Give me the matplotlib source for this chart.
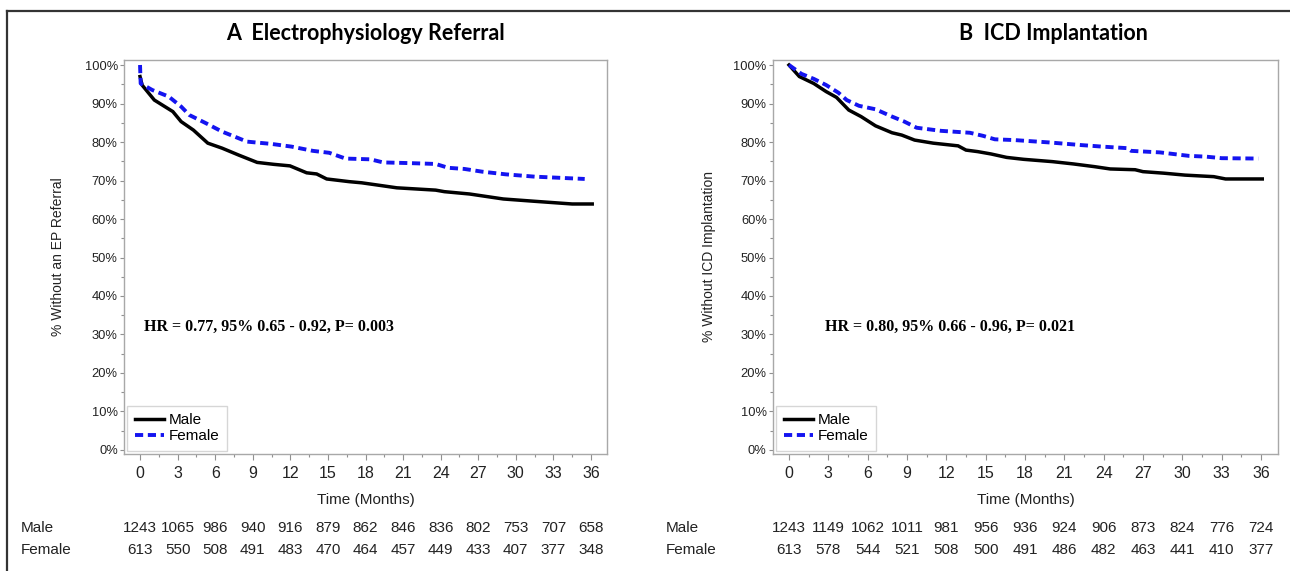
import matplotlib
matplotlib.use('Agg')
import matplotlib.pyplot as plt
from matplotlib import font_manager
from matplotlib.lines import Line2D
from matplotlib.ticker import MultipleLocator, FuncFormatter

# Kaplan-Meier estimates (months, % event-free)
ep_male_t = [0, 0.16, 1.14, 2.62, 3.28, 4.26, 5.41, 6.55, 7.88, 9.35, 10.67, 11.97, 13.3, 14.1,
             14.9, 16.7, 17.7, 19.0, 20.5, 23.6, 24.3, 26.3, 29.0, 31.5, 34.5, 36.1]
ep_male_s = [97.0, 94.8, 90.9, 87.9, 85.3, 83.1, 79.7, 78.4, 76.6, 74.7, 74.2, 73.8, 72.0, 71.7,
             70.4, 69.7, 69.4, 68.8, 68.1, 67.5, 67.1, 66.5, 65.2, 64.6, 63.9, 63.9]
ep_female_t = [0, 0.05, 0.98, 2.29, 3.28, 3.94, 5.25, 6.55, 7.55, 8.53, 10.5, 12.1, 13.8, 15.1,
               16.4, 18.4, 19.4, 21.7, 23.6, 24.6, 25.9, 27.3, 29.2, 31.5, 35.5]
ep_female_s = [100.0, 95.2, 93.5, 91.8, 89.2, 87.0, 84.9, 82.7, 81.4, 80.1, 79.5, 78.8, 77.7, 77.2,
               75.7, 75.5, 74.7, 74.5, 74.3, 73.3, 73.0, 72.3, 71.6, 71.0, 70.4]

icd_male_t = [0, 0.79, 1.89, 2.83, 3.62, 4.56, 5.5, 6.6, 7.86, 8.6, 9.58, 11.0, 12.9, 13.5, 14.4,
              15.4, 16.6, 17.9, 20.1, 21.7, 23.3, 24.5, 26.4, 27.0, 28.6, 30.2, 32.4, 33.3, 36.1]
icd_male_s = [100.0, 97.0, 95.2, 93.1, 91.6, 88.3, 86.6, 84.2, 82.4, 81.8, 80.5, 79.7, 79.0, 77.9,
              77.5, 76.9, 76.0, 75.5, 74.9, 74.3, 73.6, 73.0, 72.8, 72.3, 71.9, 71.4, 71.0, 70.4, 70.4]
icd_female_t = [0, 0.95, 1.89, 2.83, 3.77, 4.4, 5.34, 6.6, 7.86, 8.8, 9.74, 11.6, 13.8, 14.8, 15.7,
                17.2, 19.8, 22.3, 23.9, 25.8, 26.1, 28.3, 30.5, 31.8, 33.0, 35.8]
icd_female_s = [100.0, 97.7, 96.4, 94.8, 92.8, 90.9, 89.4, 88.5, 86.6, 85.3, 83.7, 82.9, 82.4, 81.6,
                80.7, 80.5, 79.9, 79.2, 78.8, 78.4, 77.7, 77.3, 76.4, 76.2, 75.8, 75.7]

# numbers at risk every 3 months
risk_months = [0, 3, 6, 9, 12, 15, 18, 21, 24, 27, 30, 33, 36]
ep_risk_male = [1243, 1065, 986, 940, 916, 879, 862, 846, 836, 802, 753, 707, 658]
ep_risk_female = [613, 550, 508, 491, 483, 470, 464, 457, 449, 433, 407, 377, 348]
icd_risk_male = [1243, 1149, 1062, 1011, 981, 956, 936, 924, 906, 873, 824, 776, 724]
icd_risk_female = [613, 578, 544, 521, 508, 500, 491, 486, 482, 463, 441, 410, 377]

names = {f.name for f in font_manager.fontManager.ttflist}
NARROW = 'Liberation Sans Narrow' if 'Liberation Sans Narrow' in names else 'Liberation Sans'
plt.rcParams['font.family'] = ['Liberation Sans', 'DejaVu Sans']

BLUE = '#1414f0'
DASH = (2.1, 1.2)

W, H = 1290, 571
fig = plt.figure(figsize=(W / 100, H / 100), dpi=100)
fig.patch.set_facecolor('white')

# outer frame (top and left edges only)
fig.add_artist(Line2D([7 / W, 7 / W], [0, 1 - 11 / H], color='#333333', lw=1.6))
fig.add_artist(Line2D([7 / W, 1], [1 - 11 / H, 1 - 11 / H], color='#333333', lw=1.6))

ax_bottom = 1 - 454 / H
ax_height = (454 - 60) / H

panels = [
    dict(rect=[124 / W, ax_bottom, (607 - 124) / W, ax_height], xlim=(-1.28, 37.28),
         title='A  Electrophysiology Referral', title_x=366 / W,
         ylabel='% Without an EP Referral', ylab_x=-0.122,
         male=(ep_male_t, ep_male_s), female=(ep_female_t, ep_female_s),
         hr='HR = 0.77, 95% 0.65 - 0.92, P= 0.003', hr_x=0.3,
         risk=(ep_risk_male, ep_risk_female), risk_lab_x=21 / W),
    dict(rect=[773 / W, ax_bottom, (1278 - 773) / W, ax_height], xlim=(-1.22, 37.3),
         title='B  ICD Implantation', title_x=1053 / W,
         ylabel='% Without ICD Implantation', ylab_x=-0.112,
         male=(icd_male_t, icd_male_s), female=(icd_female_t, icd_female_s),
         hr='HR = 0.80, 95% 0.66 - 0.96, P= 0.021', hr_x=2.75,
         risk=(icd_risk_male, icd_risk_female), risk_lab_x=666 / W),
]

for p in panels:
    ax = fig.add_axes(p['rect'])
    ax.plot(*p['male'], color='black', lw=2.5, solid_joinstyle='miter')
    ax.plot(*p['female'], color=BLUE, lw=2.8, dashes=DASH)
    ax.set_xlim(*p['xlim'])
    ax.set_ylim(-1.04, 101.3)

    for s in ax.spines.values():
        s.set_color('#a8a8a8')
        s.set_linewidth(1.0)
    ax.xaxis.set_major_locator(MultipleLocator(3))
    ax.xaxis.set_minor_locator(MultipleLocator(1.5))
    ax.yaxis.set_major_locator(MultipleLocator(10))
    ax.yaxis.set_minor_locator(MultipleLocator(5))
    ax.yaxis.set_major_formatter(FuncFormatter(lambda v, _: f'{v:.0f}%'))
    ax.tick_params(axis='x', which='major', length=4.5, width=0.8, color='#909090', pad=4,
                   labelsize=11.5, labelcolor='#222222')
    ax.tick_params(axis='x', which='minor', length=2.5, width=0.8, color='#909090')
    ax.tick_params(axis='y', which='major', length=3, width=0.8, color='#909090', pad=1.5,
                   labelsize=9.3, labelcolor='#222222')
    ax.tick_params(axis='y', which='minor', length=2, width=0.8, color='#909090')
    for lab in ax.get_xticklabels():
        lab.set_family(NARROW)

    ax.set_xlabel('Time (Months)', fontsize=11, family=NARROW, color='#222222')
    ax.xaxis.set_label_coords(0.5, -0.1)
    ax.set_ylabel(p['ylabel'], fontsize=10, color='#222222')
    ax.yaxis.set_label_coords(p['ylab_x'], 0.5)

    fig.text(p['title_x'], 1 - 33 / H, p['title'], ha='center', va='center',
             fontsize=15.5, fontweight='bold', family=['Lato', 'DejaVu Sans'])

    ax.text(p['hr_x'], 32, p['hr'], ha='left', va='center', fontsize=11.5,
            fontweight='bold', family=['Liberation Serif', 'DejaVu Serif'])

    handles = [Line2D([], [], color='black', lw=2.5),
               Line2D([], [], color=BLUE, lw=2.8, dashes=DASH)]
    leg = ax.legend(handles, ['Male', 'Female'], loc='lower left', bbox_to_anchor=(0, 0),
                    borderaxespad=0.2, frameon=True, fancybox=False, handlelength=1.9,
                    handletextpad=0.3, labelspacing=0.12, borderpad=0.5,
                    prop={'family': NARROW, 'size': 11})
    leg.get_frame().set_edgecolor('#cccccc')
    leg.get_frame().set_linewidth(1.0)

    # numbers at risk below the axis
    trans = ax.get_xaxis_transform()
    for row, (name, counts) in enumerate(zip(['Male', 'Female'], p['risk'])):
        y_ax = (-0.188, -0.244)[row]
        fig.text(p['risk_lab_x'], ax_bottom + y_ax * ax_height, name, ha='left', va='center',
                 fontsize=11, family=NARROW, color='#222222')
        for m, n in zip(risk_months, counts):
            ax.text(m, y_ax, str(n), transform=trans, ha='center', va='center',
                    fontsize=11, family=NARROW, color='#222222', clip_on=False)

fig.savefig('out.png', dpi=100, facecolor='white')
